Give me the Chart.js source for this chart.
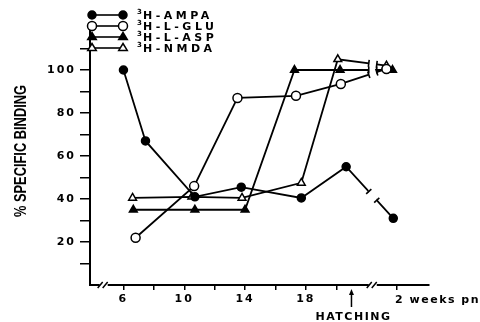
<!DOCTYPE html>
<html><head><meta charset="utf-8">
<script src="https://cdn.jsdelivr.net/npm/chart.js@4/dist/chart.umd.min.js"></script>
<style>html,body{margin:0;padding:0;background:#fff;}#wrap{width:480px;height:322px;position:relative;overflow:hidden}</style>
</head><body><div id="wrap"><canvas id="c" width="480" height="322"></canvas></div>
<script>
// ---- data ----
const seriesNames = ['AMPA', 'L-GLU', 'L-ASP', 'NMDA'];
const ampaX = [6, 7.45, 10.7, 13.75, 17.7, 20.65, 23.75];
const ampaY = [100, 67, 41, 45.5, 40.5, 55, 31];
const gluX = [6.8, 10.65, 13.5, 17.35, 20.3, 23.3];
const gluY = [22, 46, 87, 88, 93.5, 100.5];
const aspX = [6.65, 10.7, 14.0, 17.25, 20.25, 23.7];
const aspY = [35, 35, 35, 100, 100, 100];
const nmdaX = [6.6, 10.5, 13.8, 17.7, 20.1, 23.3];
const nmdaY = [40.5, 41, 40.5, 47.5, 105, 102];
const xTickValues = [6, 8, 10, 12, 14, 16, 18, 20, 24];
const xTickLabels = {6: '6', 10: '10', 14: '14', 18: '18'};
const lastXTick = 24, lastXLabel = '2 weeks pn';
const yTickValues = [10, 20, 30, 40, 50, 60, 70, 80, 90, 100, 110];
const yTickLabels = {20: '20', 40: '40', 60: '60', 80: '80', 100: '100'};
const yTitle = '% SPECIFIC BINDING';
const hatchingDay = 21, hatchingLabel = 'HATCHING';
const axisBreakLeft = 4.7, axisBreakRight = 22.4;

const toPts = (xs, ys) => xs.map((v, i) => ({x: v, y: ys[i]}));
const styles = [
  {style: 'circle', filled: true, r: 4},
  {style: 'circle', filled: false, r: 4.5},
  {style: 'triangle', filled: true, r: 4.5},
  {style: 'triangle', filled: false, r: 4.5}
];
const allPts = [toPts(ampaX, ampaY), toPts(gluX, gluY), toPts(aspX, aspY), toPts(nmdaX, nmdaY)];

function drawMarker(ctx, st, x, y) {
  const r = st.r;
  ctx.beginPath();
  if (st.style === 'circle') ctx.arc(x, y, r, 0, Math.PI * 2);
  else { ctx.moveTo(x, y - r); ctx.lineTo(x + r * 0.95, y + r * 0.55); ctx.lineTo(x - r * 0.95, y + r * 0.55); ctx.closePath(); }
  ctx.fillStyle = st.filled ? '#000' : '#fff';
  ctx.fill();
  ctx.lineWidth = 1.5; ctx.strokeStyle = '#000'; ctx.stroke();
}

const decor = {
  id: 'decor',
  beforeDraw(chart) { chart.ctx.letterSpacing = '2px'; },
  afterDatasetsDraw(chart) {
    const {ctx, chartArea, scales: {x, y}} = chart;
    const bx = x.getPixelForValue(axisBreakRight);
    const xa = bx - 4, xb = bx + 4;
    ctx.save();
    ctx.fillStyle = '#fff';
    ctx.fillRect(xa, chartArea.top, xb - xa, y.getPixelForValue(20) - chartArea.top);
    ctx.strokeStyle = '#000'; ctx.lineWidth = 1.6;
    chart.data.datasets.forEach((ds, i) => {
      const pts = chart.getDatasetMeta(i).data;
      for (let k = 0; k < pts.length - 1; k++) {
        const p = pts[k], q = pts[k + 1];
        if (p.x < xa && q.x > xb) {
          [xa, xb].forEach(xx => {
            const t = (xx - p.x) / (q.x - p.x);
            const yy = p.y + t * (q.y - p.y);
            const dx = q.x - p.x, dy = q.y - p.y, L = Math.hypot(dx, dy);
            const nx = -dy / L * 3.5, ny = dx / L * 3.5;
            ctx.beginPath(); ctx.moveTo(xx + nx, yy + ny); ctx.lineTo(xx - nx, yy - ny); ctx.stroke();
          });
        }
      }
    });
    ctx.restore();
  },
  afterDraw(chart) {
    const {ctx, chartArea, scales: {x, y}} = chart;
    const ay = chartArea.bottom;
    ctx.save();
    // axis breaks
    [axisBreakLeft, axisBreakRight].forEach(v => {
      const c = x.getPixelForValue(v);
      ctx.fillStyle = '#fff';
      ctx.fillRect(c - 4, ay - 3, 8, 6);
      ctx.strokeStyle = '#000'; ctx.lineWidth = 1.5;
      ctx.beginPath();
      ctx.moveTo(c - 6, ay + 3); ctx.lineTo(c - 1, ay - 3);
      ctx.moveTo(c - 1, ay + 3); ctx.lineTo(c + 4, ay - 3);
      ctx.stroke();
    });
    // last x label
    ctx.fillStyle = '#000';
    ctx.font = 'bold 11px "DejaVu Sans"';
    ctx.letterSpacing = '1.5px';
    ctx.textAlign = 'left'; ctx.textBaseline = 'middle';
    ctx.fillText(lastXLabel, x.getPixelForValue(lastXTick) - 2, 300);
    // hatching arrow
    const hx = x.getPixelForValue(hatchingDay);
    ctx.strokeStyle = '#000'; ctx.lineWidth = 1.5;
    ctx.beginPath(); ctx.moveTo(hx, 293); ctx.lineTo(hx, 307); ctx.stroke();
    ctx.beginPath(); ctx.moveTo(hx, 289); ctx.lineTo(hx + 2.5, 295); ctx.lineTo(hx - 2.5, 295); ctx.closePath(); ctx.fill();
    ctx.font = 'bold 11px "DejaVu Sans"';
    ctx.letterSpacing = '1.5px';
    ctx.textAlign = 'center';
    ctx.fillText(hatchingLabel, hx + 2, 317.5);
    // y title
    ctx.save();
    ctx.translate(21, 151);
    ctx.rotate(-Math.PI / 2);
    ctx.font = 'bold 16px "Liberation Sans"';
    ctx.letterSpacing = '0px';
    const w = ctx.measureText(yTitle).width;
    ctx.scale(132 / w, 1);
    ctx.textAlign = 'center'; ctx.textBaseline = 'middle';
    ctx.fillText(yTitle, 0, 1);
    ctx.restore();
    // legend
    const ly = [15, 26, 37, 48];
    seriesNames.forEach((name, i) => {
      const yy = ly[i];
      ctx.strokeStyle = '#000'; ctx.lineWidth = 1.6;
      ctx.beginPath(); ctx.moveTo(92, yy); ctx.lineTo(123, yy); ctx.stroke();
      drawMarker(ctx, styles[i], 92, yy);
      drawMarker(ctx, styles[i], 123, yy);
      ctx.fillStyle = '#000';
      ctx.textAlign = 'left'; ctx.textBaseline = 'middle';
      ctx.letterSpacing = '0px';
      ctx.font = 'bold 7px "DejaVu Sans"';
      ctx.fillText('3', 137, yy - 3);
      ctx.font = 'bold 11px "DejaVu Sans"';
      ctx.letterSpacing = '3.5px';
      ctx.fillText('H-' + name, 143, yy + 1);
    });
    ctx.restore();
  }
};

const datasets = allPts.map((pts, i) => ({
  label: seriesNames[i],
  data: pts,
  borderColor: '#000',
  borderWidth: 1.8,
  pointStyle: styles[i].style,
  pointRadius: styles[i].r,
  pointBackgroundColor: styles[i].filled ? '#000' : '#fff',
  pointBorderColor: '#000',
  pointBorderWidth: 1.5,
  tension: 0,
  fill: false
}));

new Chart(document.getElementById('c'), {
  type: 'line',
  data: {datasets},
  options: {
    responsive: false,
    animation: false,
    devicePixelRatio: 1,
    layout: {padding: {left: 0, top: 27, right: 51, bottom: 0}},
    plugins: {legend: {display: false}, tooltip: {enabled: false}},
    scales: {
      x: {
        type: 'linear', min: 3.8, max: 26.1,
        afterFit(s) { s.height = 37; },
        afterBuildTicks(s) { s.ticks = xTickValues.map(v => ({value: v})); },
        ticks: {
          autoSkip: false, maxRotation: 0, padding: 3, color: '#000',
          font: {family: 'DejaVu Sans', size: 11, weight: 'bold'},
          callback: v => xTickLabels[v] || ''
        },
        grid: {display: true, drawOnChartArea: false, drawTicks: true, tickLength: 5, color: '#000', lineWidth: 1.5},
        border: {display: true, color: '#000', width: 2}
      },
      y: {
        type: 'linear', min: 0, max: 120,
        afterFit(s) { s.width = 90; },
        afterBuildTicks(s) { s.ticks = yTickValues.map(v => ({value: v})); },
        ticks: {
          autoSkip: false, padding: 4, color: '#000',
          font: {family: 'DejaVu Sans', size: 11, weight: 'bold'},
          callback: v => yTickLabels[v] || ''
        },
        grid: {display: true, drawOnChartArea: false, drawTicks: true, tickLength: 10, color: '#000', lineWidth: 1.5},
        border: {display: true, color: '#000', width: 2}
      }
    }
  },
  plugins: [decor]
});
</script>
</body></html>
